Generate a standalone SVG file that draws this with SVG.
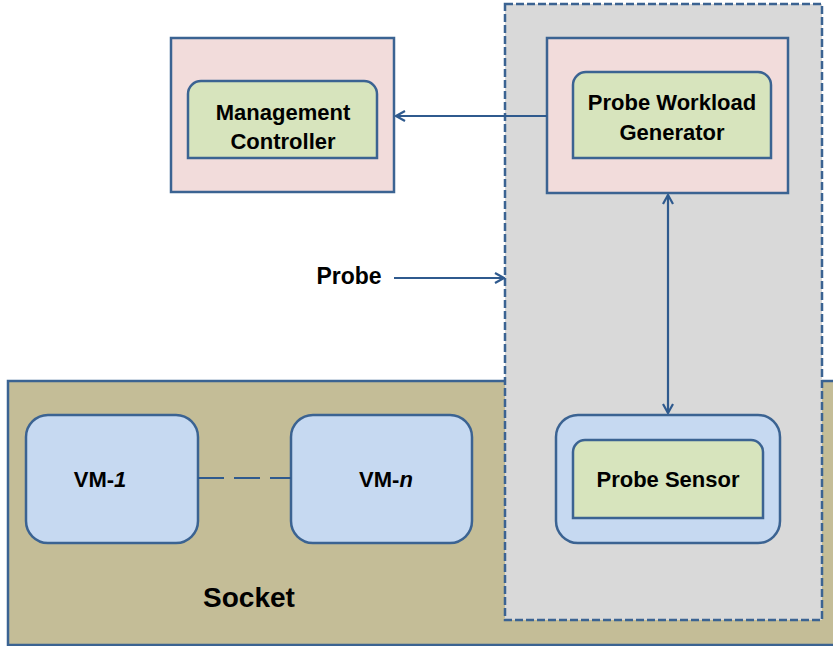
<svg xmlns="http://www.w3.org/2000/svg" width="833" height="646" viewBox="0 0 833 646">
  <style>
    .box { stroke: #3b6392; stroke-width: 2.5; }
    .pink { fill: #f2dcdb; }
    .green { fill: #d7e4bd; }
    .blue { fill: #c6d9f1; }
    .conn { stroke: #2f5a8e; stroke-width: 2.2; fill: none; }
    text { font-family: "Liberation Sans", Arial, sans-serif; font-weight: bold; fill: #000; text-anchor: middle; }
    .lbl { font-size: 22px; }
  </style>
  <defs>
    <marker id="chev" viewBox="0 0 12 12" refX="11" refY="6" markerWidth="12" markerHeight="12" markerUnits="userSpaceOnUse" orient="auto-start-reverse">
      <path d="M2,1 L11,6 L2,11" fill="none" stroke="#2f5a8e" stroke-width="2.2"/>
    </marker>
  </defs>
  <rect width="833" height="646" fill="#ffffff"/>

  <!-- socket -->
  <g id="socket">
    <rect x="8" y="381" width="840" height="264" fill="#c4bd97" class="box"/>
    <text x="249" y="607" style="font-size:28px">Socket</text>
  </g>

  <!-- probe region -->
  <g id="probe-region">
    <rect x="505" y="4" width="317" height="616" fill="#d9d9d9" stroke="#3b6392" stroke-width="2.5" stroke-dasharray="8 3"/>
  </g>

  <g id="management">
    <rect x="171" y="38" width="223" height="154" class="box pink"/>
    <path d="M188,158 V94 a13,13 0 0 1 13,-13 H364 a13,13 0 0 1 13,13 V158 Z" class="box green"/>
    <text class="lbl" x="283" y="120">Management</text>
    <text class="lbl" x="283" y="149">Controller</text>
  </g>

  <g id="workload-generator">
    <rect x="547" y="38" width="241" height="155" class="box pink"/>
    <path d="M573,158 V85 a13,13 0 0 1 13,-13 H758 a13,13 0 0 1 13,13 V158 Z" class="box green"/>
    <text class="lbl" x="672" y="110">Probe Workload</text>
    <text class="lbl" x="672" y="140">Generator</text>
  </g>

  <g id="probe-sensor">
    <rect x="556" y="415" width="224" height="128" rx="22" class="box blue"/>
    <path d="M573,518 V452 a12,12 0 0 1 12,-12 H751 a12,12 0 0 1 12,12 V518 Z" class="box green"/>
    <text class="lbl" x="668" y="487">Probe Sensor</text>
  </g>

  <g id="vm-1">
    <rect x="26" y="415" width="172" height="128" rx="22" class="box blue"/>
    <text class="lbl" x="100" y="487">VM-<tspan font-style="italic">1</tspan></text>
  </g>

  <g id="vm-n">
    <rect x="291" y="415" width="181" height="128" rx="22" class="box blue"/>
    <text class="lbl" x="386" y="487">VM-<tspan font-style="italic">n</tspan></text>
  </g>

  <g id="probe-label">
    <text class="lbl" x="349" y="284" style="font-size:23px">Probe</text>
  </g>

  <g id="connectors">
    <line class="conn" x1="547" y1="116" x2="396" y2="116" marker-end="url(#chev)"/>
    <line class="conn" x1="668" y1="195" x2="668" y2="413" marker-start="url(#chev)" marker-end="url(#chev)"/>
    <line class="conn" x1="394" y1="278" x2="504" y2="278" marker-end="url(#chev)"/>
    <line class="conn" x1="198" y1="478" x2="291" y2="478" stroke-dasharray="26 10"/>
  </g>
</svg>
